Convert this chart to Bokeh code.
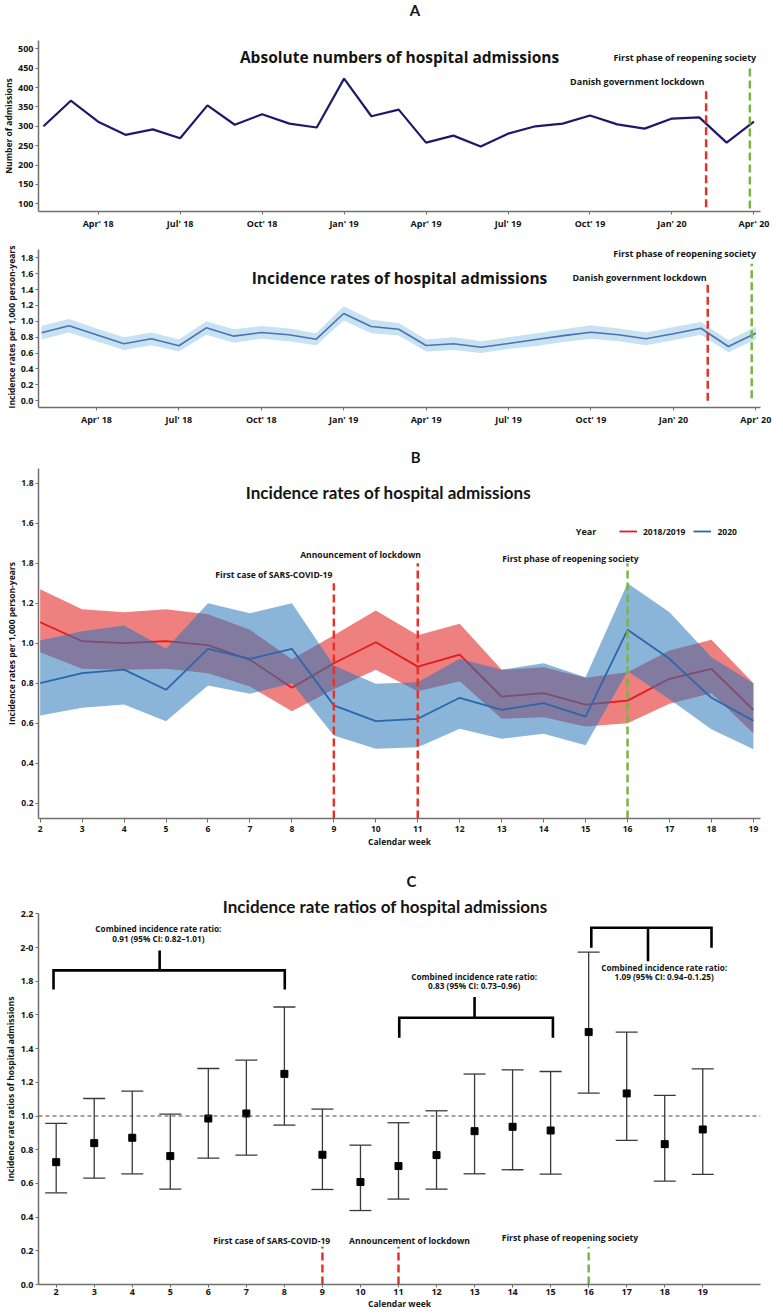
from bokeh.plotting import figure
from bokeh.layouts import column
from bokeh.models import (FixedTicker, PrintfTickFormatter, Label, Legend, LegendItem,
                          Whisker, TeeHead, ColumnDataSource, Span)
from bokeh.embed import file_html
from bokeh.resources import INLINE

# ---------------- data: panel A ----------------
months = ["Feb' 18", "Mar' 18", "Apr' 18", "May' 18", "Jun' 18", "Jul' 18", "Aug' 18",
          "Sep' 18", "Oct' 18", "Nov' 18", "Dec' 18", "Jan' 19", "Feb' 19", "Mar' 19",
          "Apr' 19", "May' 19", "Jun' 19", "Jul' 19", "Aug' 19", "Sep' 19", "Oct' 19",
          "Nov' 19", "Dec' 19", "Jan' 20", "Feb' 20", "Mar' 20", "Apr' 20"]
month_tick_labels = ["Apr' 18", "Jul' 18", "Oct' 18", "Jan' 19", "Apr' 19",
                     "Jul' 19", "Oct' 19", "Jan' 20", "Apr' 20"]
admissions = [300, 366, 312, 278, 292, 269, 354, 304, 331, 307, 297, 423, 326, 343,
              258, 276, 248, 281, 300, 307, 328, 305, 294, 320, 323, 258, 312]
ir_rate = [0.855, 0.944, 0.83, 0.717, 0.78, 0.692, 0.918, 0.813, 0.859, 0.83, 0.775,
           1.098, 0.935, 0.90, 0.695, 0.717, 0.674, 0.72, 0.77, 0.82, 0.863, 0.83,
           0.78, 0.843, 0.913, 0.683, 0.85]
ir_lower = [0.77, 0.86, 0.75, 0.64, 0.70, 0.62, 0.83, 0.73, 0.78, 0.75, 0.70, 1.01,
            0.85, 0.82, 0.62, 0.64, 0.60, 0.65, 0.69, 0.74, 0.78, 0.75, 0.70, 0.76,
            0.83, 0.61, 0.77]
ir_upper = [0.94, 1.03, 0.91, 0.80, 0.86, 0.77, 1.00, 0.90, 0.94, 0.91, 0.85, 1.19,
            1.02, 0.98, 0.77, 0.80, 0.75, 0.80, 0.85, 0.90, 0.95, 0.91, 0.86, 0.93,
            0.99, 0.76, 0.93]
a_event_labels = ["Danish government lockdown", "First phase of reopening society"]
a_event_month = [24.25, 25.85]

# ---------------- data: panel B ----------------
weeks = [2, 3, 4, 5, 6, 7, 8, 9, 10, 11, 12, 13, 14, 15, 16, 17, 18, 19]
ir_1819 = [1.105, 1.01, 1.0, 1.01, 0.99, 0.917, 0.777, 0.9, 1.005, 0.883, 0.943,
           0.733, 0.75, 0.693, 0.713, 0.822, 0.872, 0.667]
ir_1819_upper = [1.27, 1.17, 1.155, 1.17, 1.145, 1.067, 0.92, 1.04, 1.163, 1.04, 1.097,
                 0.867, 0.88, 0.827, 0.855, 0.963, 1.017, 0.80]
ir_1819_lower = [0.955, 0.872, 0.867, 0.872, 0.85, 0.783, 0.66, 0.77, 0.867, 0.76, 0.81,
                 0.622, 0.63, 0.583, 0.60, 0.697, 0.75, 0.55]
ir_2020 = [0.80, 0.85, 0.868, 0.767, 0.972, 0.922, 0.972, 0.689, 0.61, 0.622, 0.727,
           0.667, 0.70, 0.633, 1.067, 0.922, 0.727, 0.612]
ir_2020_upper = [1.013, 1.06, 1.088, 0.972, 1.2, 1.15, 1.2, 0.889, 0.797, 0.805, 0.922,
                 0.867, 0.90, 0.83, 1.30, 1.155, 0.93, 0.80]
ir_2020_lower = [0.638, 0.677, 0.694, 0.61, 0.789, 0.747, 0.80, 0.539, 0.472, 0.48,
                 0.572, 0.522, 0.547, 0.49, 0.86, 0.72, 0.57, 0.47]
event_weeks = [9, 11, 16]
event_labels = ["First case of SARS-COVID-19", "Announcement of lockdown",
                "First phase of reopening society"]

# ---------------- data: panel C ----------------
irr = [0.726, 0.839, 0.871, 0.762, 0.985, 1.015, 1.25, 0.77, 0.608, 0.703, 0.768,
       0.91, 0.936, 0.914, 1.498, 1.134, 0.833, 0.92]
irr_lower = [0.544, 0.631, 0.657, 0.566, 0.75, 0.768, 0.946, 0.564, 0.439, 0.507,
             0.566, 0.657, 0.681, 0.655, 1.136, 0.855, 0.614, 0.653]
irr_upper = [0.956, 1.104, 1.148, 1.011, 1.282, 1.332, 1.647, 1.041, 0.827, 0.96,
             1.031, 1.249, 1.274, 1.264, 1.973, 1.498, 1.122, 1.28]
null_ratio = 1.0
period_start = [2, 11, 16]
period_end = [8, 15, 19]
combined_title = "Combined incidence rate ratio:"
combined_text = ["0.91 (95% CI: 0.82\u20131.01)", "0.83 (95% CI: 0.73\u20130.96)",
                 "1.09 (95% CI: 0.94\u20130.1.25)"]

count_ticks = [100, 150, 200, 250, 300, 350, 400, 450, 500]
rate_ticks_a = [0.0, 0.2, 0.4, 0.6, 0.8, 1.0, 1.2, 1.4, 1.6, 1.8]
rate_ticks_b = [0.2, 0.4, 0.6, 0.8, 1.0, 1.2, 1.4, 1.6, 1.8]
ratio_ticks = [0.0, 0.2, 0.4, 0.6, 0.8, 1.0, 1.2, 1.4, 1.6, 1.8, 2.0, 2.2]

# ---------------- styles ----------------
FONT = "Open Sans"
TFONT = "Lato"
RED = "#e3342b"
GREEN = "#7ab544"
EVENT_COLORS = [RED, RED, GREEN]
AXIS_COL = "#6f6f6f"
W = 783
LEFT = 36


def style(p, tick_size="9px", label_size="8.5px"):
    p.xgrid.visible = False
    p.ygrid.visible = False
    p.outline_line_color = None
    p.background_fill_color = "white"
    p.border_fill_color = "white"
    for ax in list(p.xaxis) + list(p.yaxis):
        ax.axis_line_color = AXIS_COL
        ax.axis_line_width = 1.5
        ax.major_tick_line_color = AXIS_COL
        ax.major_tick_out = 3
        ax.major_tick_in = 0
        ax.minor_tick_line_color = None
        ax.major_label_text_font = FONT
        ax.major_label_text_font_style = "bold"
        ax.major_label_text_font_size = tick_size
        ax.major_label_text_color = "#151515"
        ax.major_label_standoff = 2
        ax.axis_label_text_font = FONT
        ax.axis_label_text_font_style = "bold"
        ax.axis_label_text_font_size = label_size
        ax.axis_label_text_color = "#151515"
        ax.axis_label_standoff = 1


def add_text(p, x, y, text, size, font=FONT, align="center", color="#151515"):
    p.add_layout(Label(x=x, y=y, text=text, text_font=font, text_font_size=size,
                       text_font_style="bold", text_align=align, text_baseline="middle",
                       text_color=color))


def header(height, x_range, right):
    h = figure(width=W, height=height, x_range=x_range, y_range=(0, 1),
               output_backend="svg", toolbar_location=None, title=None,
               x_axis_location=None, y_axis_location=None,
               min_border_left=LEFT, min_border_right=right,
               min_border_top=0, min_border_bottom=0)
    h.grid.visible = False
    h.outline_line_color = None
    return h


mx = list(range(len(months)))
month_tick_pos = [months.index(m) for m in month_tick_labels]
month_overrides = {months.index(m): m for m in month_tick_labels}

xr_a1 = (-0.1825, 26.24)
xr_a2 = (-0.109, 26.17)
xr_b = (1.9605, 19.169)
xr_c = (1.535, 20.518)

# ---------------- header A ----------------
hA = header(22, xr_a1, 23)
add_text(hA, 13.59, 0.55, "A", "15px", font=TFONT)

# ---------------- Panel A (top) ----------------
p1 = figure(width=W, height=214, x_range=xr_a1, y_range=(80.2, 521.4),
            output_backend="svg", toolbar_location=None, title=None,
            min_border_left=LEFT, min_border_right=23, min_border_top=18, min_border_bottom=25)
p1.line(mx, admissions, line_color="#1c1a6b", line_width=2.2)
p1.segment(x0=a_event_month, y0=[91, 88], x1=a_event_month, y1=[400, 452],
           line_color=[RED, GREEN], line_width=2.5, line_dash="8 4")
style(p1)
p1.yaxis.ticker = FixedTicker(ticks=count_ticks)
p1.yaxis.axis_label = "Number of admissions"
p1.xaxis.ticker = FixedTicker(ticks=month_tick_pos)
p1.xaxis.major_label_overrides = month_overrides
add_text(p1, 13.03, 477.6, "Absolute numbers of hospital admissions", "15.5px")
add_text(p1, 23.47, 477.6, a_event_labels[1], "9px")
add_text(p1, 21.73, 416.4, a_event_labels[0], "9px")

# ---------------- Panel A (bottom) ----------------
p2 = figure(width=W, height=194, x_range=xr_a2, y_range=(-0.0854, 1.9423),
            output_backend="svg", toolbar_location=None, title=None,
            min_border_left=LEFT, min_border_right=23, min_border_top=10, min_border_bottom=23)
p2.varea(x=mx, y1=ir_lower, y2=ir_upper, fill_color="#c7e2f0", fill_alpha=1.0)
p2.line(mx, ir_rate, line_color="#4f6fb8", line_width=1.6)
p2.segment(x0=a_event_month, y0=[0.0, 0.03], x1=a_event_month, y1=[1.4725, 1.724],
           line_color=[RED, GREEN], line_width=2.5, line_dash="8 4")
style(p2)
p2.yaxis.ticker = FixedTicker(ticks=rate_ticks_a)
p2.yaxis.formatter = PrintfTickFormatter(format="%.1f")
p2.yaxis.bounds = (-0.0854, 1.9)
p2.yaxis.axis_label = "Incidence rates per 1,000 person-years"
p2.xaxis.ticker = FixedTicker(ticks=month_tick_pos)
p2.xaxis.major_label_overrides = month_overrides
add_text(p2, 13.03, 1.548, "Incidence rates of hospital admissions", "15.5px")
add_text(p2, 23.41, 1.85, a_event_labels[1], "9px")
add_text(p2, 21.77, 1.548, a_event_labels[0], "9px")

# ---------------- header B ----------------
hB = header(38, xr_b, 6)
add_text(hB, 10.95, 0.29, "B", "15px", font=TFONT)

# ---------------- Panel B ----------------
p3 = figure(width=W, height=394, x_range=xr_b, y_range=(0.1235, 1.8735),
            output_backend="svg", toolbar_location=None, title=None,
            min_border_left=LEFT, min_border_right=6, min_border_top=0, min_border_bottom=44)
p3.varea(x=weeks, y1=ir_1819_lower, y2=ir_1819_upper, fill_color="#e01818", fill_alpha=0.55)
r_red = p3.line(weeks, ir_1819, line_color="#e41a1c", line_width=1.8)
p3.varea(x=weeks, y1=ir_2020_lower, y2=ir_2020_upper, fill_color="#2a77b8", fill_alpha=0.55)
r_blue = p3.line(weeks, ir_2020, line_color="#2c66ad", line_width=1.8)
p3.segment(x0=event_weeks, y0=[0.1235] * 3, x1=event_weeks, y1=[1.30, 1.40, 1.40],
           line_color=EVENT_COLORS, line_width=2.5, line_dash="8 4")
style(p3, tick_size="8.5px")
p3.yaxis.ticker = FixedTicker(ticks=rate_ticks_b)
p3.yaxis.formatter = PrintfTickFormatter(format="%.1f")
p3.yaxis.major_label_overrides = {1.4: "1.8"}
p3.yaxis.axis_label = "Incidence rates per 1,000 person-years"
p3.xaxis.ticker = FixedTicker(ticks=weeks)
p3.xaxis.axis_label = "Calendar week"
p3.xaxis.major_tick_out = 4
p3.xaxis.major_label_standoff = 3
add_text(p3, 10.30, 1.755, "Incidence rates of hospital admissions", "17px", font=TFONT)
add_text(p3, 7.57, 1.3435, event_labels[0], "8.6px")
add_text(p3, 9.636, 1.4435, event_labels[1], "8.6px")
add_text(p3, 14.64, 1.4235, event_labels[2], "8.6px")
add_text(p3, 15.01, 1.5585, "Year", "9px")
legend = Legend(items=[LegendItem(label="2018/2019", renderers=[r_red]),
                       LegendItem(label="2020", renderers=[r_blue])],
                location=(581, 281), orientation="horizontal",
                border_line_color=None, background_fill_alpha=0.0,
                padding=0, margin=0, spacing=8, glyph_width=18, glyph_height=12,
                label_height=12, label_standoff=6,
                label_text_font=FONT, label_text_font_style="bold",
                label_text_font_size="8.5px", label_text_color="#151515")
p3.add_layout(legend)

# ---------------- header C ----------------
hC = header(31, xr_c, 0)
add_text(hC, 11.344, 0.419, "C", "15px", font=TFONT)

# ---------------- Panel C ----------------
p4 = figure(width=W, height=420, x_range=xr_c, y_range=(0.0, 2.3205),
            output_backend="svg", toolbar_location=None, title=None,
            min_border_left=LEFT, min_border_right=0, min_border_top=0, min_border_bottom=29)
src = ColumnDataSource(dict(week=weeks, irr=irr, lo=irr_lower, hi=irr_upper))
p4.add_layout(Span(location=null_ratio, dimension="width", line_color="#444444",
                   line_width=1, line_dash="4 3"))
p4.add_layout(Whisker(source=src, base="week", upper="hi", lower="lo", dimension="height",
                      line_color="#3a3a3a", line_width=1.3,
                      upper_head=TeeHead(size=22, line_color="#3a3a3a", line_width=1.3),
                      lower_head=TeeHead(size=22, line_color="#3a3a3a", line_width=1.3)))
p4.scatter(x="week", y="irr", source=src, marker="square", size=7,
           fill_color="black", line_color="black")
p4.segment(x0=event_weeks, y0=[0.0] * 3, x1=event_weeks, y1=[0.224] * 3,
           line_color=EVENT_COLORS, line_width=2.5, line_dash="8 4")

# brackets for the combined periods (layout constants)
bar_y = [1.864, 1.583, 2.117]
leg_y = [1.751, 1.464, 1.998]
pad = [(-0.07, 0.01), (0.02, 0.06), (0.07, 0.23)]
stem_x = [4.72, 13.0, 17.56]
stem_end = [1.982, 1.706, 1.919]
bx, by = [], []
for i in range(3):
    x0 = period_start[i] + pad[i][0]
    x1 = period_end[i] + pad[i][1]
    bx.append([x0, x0, x1, x1])
    by.append([leg_y[i], bar_y[i], bar_y[i], leg_y[i]])
    bx.append([stem_x[i], stem_x[i]])
    by.append([bar_y[i], stem_end[i]])
p4.multi_line(bx, by, line_color="black", line_width=2.6, line_join="miter")
text_x = [4.686, 12.99, 17.985]
text_y1 = [2.111, 1.830, 1.884]
text_y2 = [2.053, 1.777, 1.830]
for i in range(3):
    add_text(p4, text_x[i], text_y1[i], combined_title, "8.2px")
    add_text(p4, text_x[i], text_y2[i], combined_text[i], "8.2px")

style(p4)
p4.yaxis.ticker = FixedTicker(ticks=ratio_ticks)
p4.yaxis.formatter = PrintfTickFormatter(format="%.1f")
p4.yaxis.major_label_overrides = {2.0: "2-0"}
p4.yaxis.bounds = (0.0, 2.2)
p4.yaxis.axis_label = "Incidence rate ratios of hospital admissions"
p4.xaxis.ticker = FixedTicker(ticks=weeks)
p4.xaxis.axis_label = "Calendar week"
p4.xaxis.axis_label_standoff = 0
p4.xaxis.major_label_standoff = 1
add_text(p4, 10.65, 2.2457, "Incidence rate ratios of hospital admissions", "17px", font=TFONT)
add_text(p4, 7.667, 0.261, event_labels[0], "8.6px")
add_text(p4, 11.29, 0.261, event_labels[1], "8.6px")
add_text(p4, 15.507, 0.277, event_labels[2], "8.6px")

layout = column(hA, p1, p2, hB, p3, hC, p4, spacing=0)
open("out.html", "w").write(file_html(layout, INLINE))
